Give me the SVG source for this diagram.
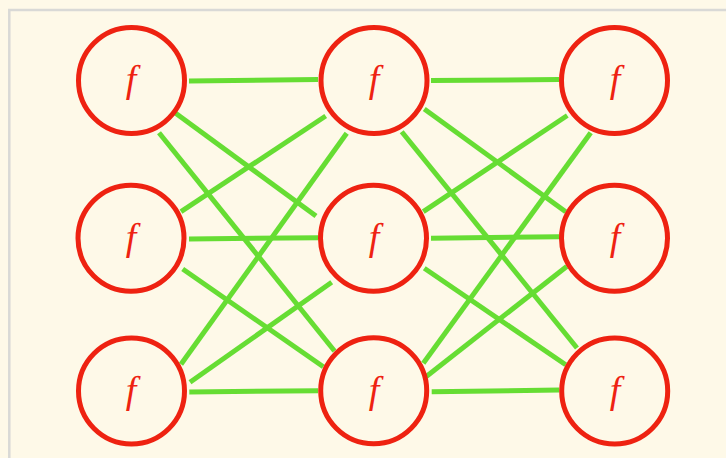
<svg xmlns="http://www.w3.org/2000/svg" width="726" height="458" viewBox="0 0 726 458">
<style>
.bg{fill:#fef9e8}
.frame{fill:none;stroke:#d9d9d6;stroke-width:2.5}
.node circle{fill:#fef9e8;stroke:#ee2211;stroke-width:5}
.node text{fill:#ee2211;font-family:"Liberation Serif","DejaVu Serif",serif;font-style:italic;font-size:38px;text-anchor:middle}
.edges line{stroke:#66dd33;stroke-width:5;stroke-linecap:butt}
</style>
<rect class="bg" x="0" y="0" width="726" height="458"/>
<rect class="frame" x="9.3" y="10" width="800" height="600"/>
<g class="edges" id="connectors">
<line x1="189" y1="81" x2="318" y2="79.5"/>
<line x1="431" y1="80.5" x2="559" y2="79.5"/>
<line x1="189" y1="239" x2="318.3" y2="237.7"/>
<line x1="431" y1="238.3" x2="559.3" y2="236.7"/>
<line x1="189.3" y1="392" x2="318" y2="390.7"/>
<line x1="431.7" y1="391.7" x2="559.3" y2="390"/>
<line x1="175" y1="112.7" x2="316" y2="216"/>
<line x1="159" y1="132.7" x2="334.5" y2="351"/>
<line x1="181" y1="211.7" x2="325.7" y2="116"/>
<line x1="346.7" y1="133.3" x2="181" y2="364.3"/>
<line x1="182.7" y1="269" x2="323.3" y2="366.7"/>
<line x1="190" y1="382.3" x2="331.7" y2="282.3"/>
<line x1="424.3" y1="109" x2="565.7" y2="211.7"/>
<line x1="401.7" y1="131.7" x2="577" y2="348"/>
<line x1="423.3" y1="211.7" x2="567.3" y2="115.5"/>
<line x1="423.3" y1="363.3" x2="590.7" y2="132.7"/>
<line x1="424.3" y1="268.3" x2="565.7" y2="364.7"/>
<line x1="426" y1="376.7" x2="566.7" y2="266.5"/>
</g>
<g class="node" id="n11"><circle cx="131.5" cy="80.5" r="53"/><text x="131" y="92">f</text></g>
<g class="node" id="n12"><circle cx="131" cy="238.3" r="53"/><text x="131" y="250">f</text></g>
<g class="node" id="n13"><circle cx="131.5" cy="391" r="53"/><text x="131" y="403">f</text></g>
<g class="node" id="n21"><circle cx="374" cy="80.5" r="53"/><text x="374" y="92">f</text></g>
<g class="node" id="n22"><circle cx="373.5" cy="238.3" r="53"/><text x="374" y="250">f</text></g>
<g class="node" id="n23"><circle cx="373.7" cy="390.8" r="53"/><text x="374" y="403">f</text></g>
<g class="node" id="n31"><circle cx="614.5" cy="80.5" r="53"/><text x="615" y="92">f</text></g>
<g class="node" id="n32"><circle cx="614.5" cy="238.3" r="53"/><text x="615" y="250">f</text></g>
<g class="node" id="n33"><circle cx="614.7" cy="391" r="53"/><text x="615" y="403">f</text></g>
</svg>
